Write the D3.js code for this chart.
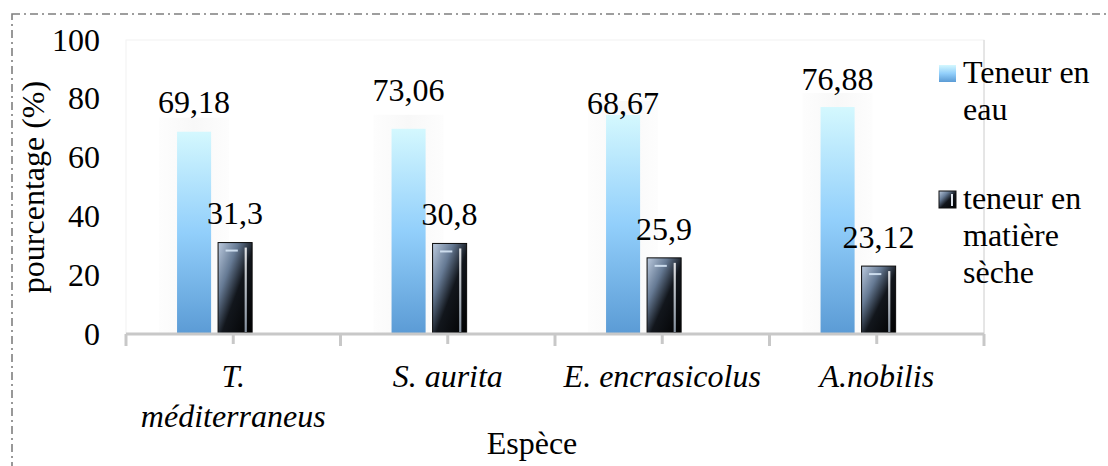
<!DOCTYPE html>
<html>
<head>
<meta charset="utf-8">
<script src="https://cdn.jsdelivr.net/npm/d3@7"></script>
<style>
  html, body { margin: 0; padding: 0; background: #fff; }
  svg { display: block; }
</style>
</head>
<body>
<svg id="chart" width="1108" height="466"></svg>
<script>
// ---- data ----
const categories = [["T.", "méditerraneus"], ["S. aurita"], ["E. encrasicolus"], ["A.nobilis"]];
const seriesNames = ["Teneur en eau", "teneur en matière sèche"];
const legendLines = [["Teneur en", "eau"], ["teneur en", "matière", "sèche"]];
const waterValues = [68.8, 69.8, 74.5, 77.2];      // bar heights as drawn
const dryValues = [31.1, 30.8, 25.9, 23.1];
const waterLabels = ["69,18", "73,06", "68,67", "76,88"];
const dryLabels = ["31,3", "30,8", "25,9", "23,12"];
const yTicks = [0, 20, 40, 60, 80, 100];
const yTitle = "pourcentage (%)";
const xTitle = "Espèce";

// ---- layout ----
const FONT = "'Liberation Serif', 'Times New Roman', Times, 'DejaVu Serif', serif";
const svg = d3.select("#chart").attr("font-family", FONT);
const W = 1108, H = 466;
const plot = { left: 126, right: 984, top: 40, bottom: 334 };
const FS = 32;

const x = d3.scaleBand().domain(d3.range(categories.length)).range([plot.left, plot.right]).padding(0);
const bw = x.bandwidth();
const x1 = d3.scaleBand().domain([0, 1]).range([bw * 0.238, bw * 0.588]).paddingInner(0.17);
const y = d3.scaleLinear().domain([0, 100]).range([plot.bottom, plot.top]);

const defs = svg.append("defs");
const bg = defs.append("linearGradient").attr("id", "blueGrad").attr("x1", 0).attr("y1", 0).attr("x2", 0).attr("y2", 1);
bg.append("stop").attr("offset", 0).attr("stop-color", "#d4f8fe");
bg.append("stop").attr("offset", 0.5).attr("stop-color", "#92cffb");
bg.append("stop").attr("offset", 1).attr("stop-color", "#5b9bd5");

const dg = defs.append("linearGradient").attr("id", "darkGrad").attr("x1", 0).attr("y1", 0).attr("x2", 1).attr("y2", 1);
dg.append("stop").attr("offset", 0).attr("stop-color", "#bccbdf");
dg.append("stop").attr("offset", 0.3).attr("stop-color", "#667a94");
dg.append("stop").attr("offset", 0.55).attr("stop-color", "#12161c");
dg.append("stop").attr("offset", 1).attr("stop-color", "#000");

const hg = defs.append("linearGradient").attr("id", "hiGrad").attr("x1", 0).attr("y1", 0).attr("x2", 0).attr("y2", 1);
hg.append("stop").attr("offset", 0).attr("stop-color", "#ffffff");
hg.append("stop").attr("offset", 1).attr("stop-color", "#9aa8b8");

const sg = defs.append("linearGradient").attr("id", "shadowGrad").attr("x1", 0).attr("y1", 0).attr("x2", 1).attr("y2", 0);
sg.append("stop").attr("offset", 0).attr("stop-color", "#fdfdfd");
sg.append("stop").attr("offset", 0.5).attr("stop-color", "#f8f8f8");
sg.append("stop").attr("offset", 1).attr("stop-color", "#fdfdfd");

// outer dash-dot border
svg.append("rect").attr("x", 12).attr("y", 14).attr("width", W + 20).attr("height", H + 20)
  .attr("fill", "none").attr("stroke", "#7f7f7f").attr("stroke-width", 1.6)
  .attr("stroke-dasharray", "8,4,2,4");

// plot area border
svg.append("rect").attr("x", plot.left).attr("y", plot.top)
  .attr("width", plot.right - plot.left).attr("height", plot.bottom - plot.top)
  .attr("fill", "none").attr("stroke", "#f2f2f2").attr("stroke-width", 1);
svg.append("line").attr("x1", plot.right).attr("x2", plot.right).attr("y1", plot.top).attr("y2", plot.bottom)
  .attr("stroke", "#d9d9d9").attr("stroke-width", 1.2);

// y tick labels
svg.append("g").selectAll("text").data(yTicks).join("text")
  .attr("x", 100).attr("y", d => y(d)).attr("dy", "0.33em")
  .attr("text-anchor", "end").attr("font-size", FS).text(d => d);

// y title
svg.append("text").attr("transform", `translate(44, ${(plot.top + plot.bottom) / 2}) rotate(-90)`)
  .attr("text-anchor", "middle").attr("font-size", FS).text(yTitle);

// soft shadows behind water bars
svg.append("g").selectAll("rect").data(waterValues).join("rect")
  .attr("x", (d, i) => x(i) + x1(0) - 18).attr("width", x1.bandwidth() + 36)
  .attr("y", d => y(d) - 14).attr("height", d => y(0) - y(d) + 14)
  .attr("fill", "url(#shadowGrad)");

// water bars
svg.append("g").selectAll("rect").data(waterValues).join("rect")
  .attr("x", (d, i) => x(i) + x1(0)).attr("width", x1.bandwidth())
  .attr("y", d => y(d)).attr("height", d => y(0) - y(d))
  .attr("fill", "url(#blueGrad)");

// dry matter bars
const dry = svg.append("g").selectAll("g").data(dryValues).join("g");
dry.append("rect")
  .attr("x", (d, i) => x(i) + x1(1)).attr("width", x1.bandwidth())
  .attr("y", d => y(d)).attr("height", d => y(0) - y(d))
  .attr("fill", "url(#darkGrad)").attr("stroke", "#0b0b0b").attr("stroke-width", 1);
dry.append("rect")
  .attr("x", (d, i) => x(i) + x1(1) + x1.bandwidth() * 0.78).attr("width", 2.2)
  .attr("y", d => y(d) + 5).attr("height", d => y(0) - y(d) - 7)
  .attr("fill", "url(#hiGrad)").attr("opacity", 0.85);
dry.append("rect")
  .attr("x", (d, i) => x(i) + x1(1) + x1.bandwidth() * 0.22).attr("width", x1.bandwidth() * 0.36)
  .attr("y", d => y(d) + 7).attr("height", 2)
  .attr("fill", "#d6e6f5").attr("opacity", 0.9);

// value labels
const num = s => +s.replace(",", ".");
svg.append("g").selectAll("text").data(waterLabels).join("text")
  .attr("x", (d, i) => x(i) + x1(0) + x1.bandwidth() / 2)
  .attr("y", d => y(num(d)) - 18)
  .attr("text-anchor", "middle").attr("font-size", FS).text(d => d);
svg.append("g").selectAll("text").data(dryLabels).join("text")
  .attr("x", (d, i) => x(i) + x1(1) + x1.bandwidth() / 2)
  .attr("y", d => y(num(d)) - 18)
  .attr("text-anchor", "middle").attr("font-size", FS).text(d => d);

// x axis
const axisG = svg.append("g");
axisG.append("line").attr("x1", plot.left).attr("x2", plot.right).attr("y1", plot.bottom).attr("y2", plot.bottom)
  .attr("stroke", "#c8c8c8").attr("stroke-width", 3);
const bounds = d3.range(categories.length + 1).map(i => plot.left + i * bw);
axisG.selectAll("line.b").data(bounds).join("line").attr("class", "b")
  .attr("x1", d => d).attr("x2", d => d).attr("y1", plot.bottom).attr("y2", plot.bottom + 12)
  .attr("stroke", "#c8c8c8").attr("stroke-width", 3);
axisG.selectAll("line.c").data(d3.range(categories.length)).join("line").attr("class", "c")
  .attr("x1", i => x(i) + bw / 2).attr("x2", i => x(i) + bw / 2).attr("y1", plot.bottom).attr("y2", plot.bottom + 10)
  .attr("stroke", "#c8c8c8").attr("stroke-width", 3);

// category labels
const cat = svg.append("g").selectAll("text").data(categories).join("text")
  .attr("text-anchor", "middle").attr("font-size", FS).attr("font-style", "italic");
cat.selectAll("tspan").data((d, i) => d.map(t => ({ t, i }))).join("tspan")
  .attr("x", d => x(d.i) + bw / 2).attr("y", (d, j) => 387 + j * 40).text(d => d.t);

// x title
svg.append("text").attr("x", 532).attr("y", 454).attr("text-anchor", "middle").attr("font-size", FS).text(xTitle);

// legend
const legY = [65, 191];
const leg = svg.append("g").selectAll("g").data(seriesNames).join("g")
  .attr("transform", (d, i) => `translate(939, ${legY[i]})`);
leg.append("rect").attr("width", 17).attr("height", 17)
  .attr("fill", (d, i) => i === 0 ? "url(#blueGrad)" : "url(#darkGrad)")
  .attr("stroke", (d, i) => i === 0 ? "none" : "#111");
leg.filter((d, i) => i === 1).append("rect").attr("x", 12).attr("y", 3).attr("width", 2).attr("height", 12).attr("fill", "#e0e6ee");
leg.append("text").attr("font-size", FS)
  .selectAll("tspan").data((d, i) => legendLines[i]).join("tspan")
  .attr("x", 24).attr("y", (d, j) => 18 + j * 37).text(d => d);
</script>
</body>
</html>
